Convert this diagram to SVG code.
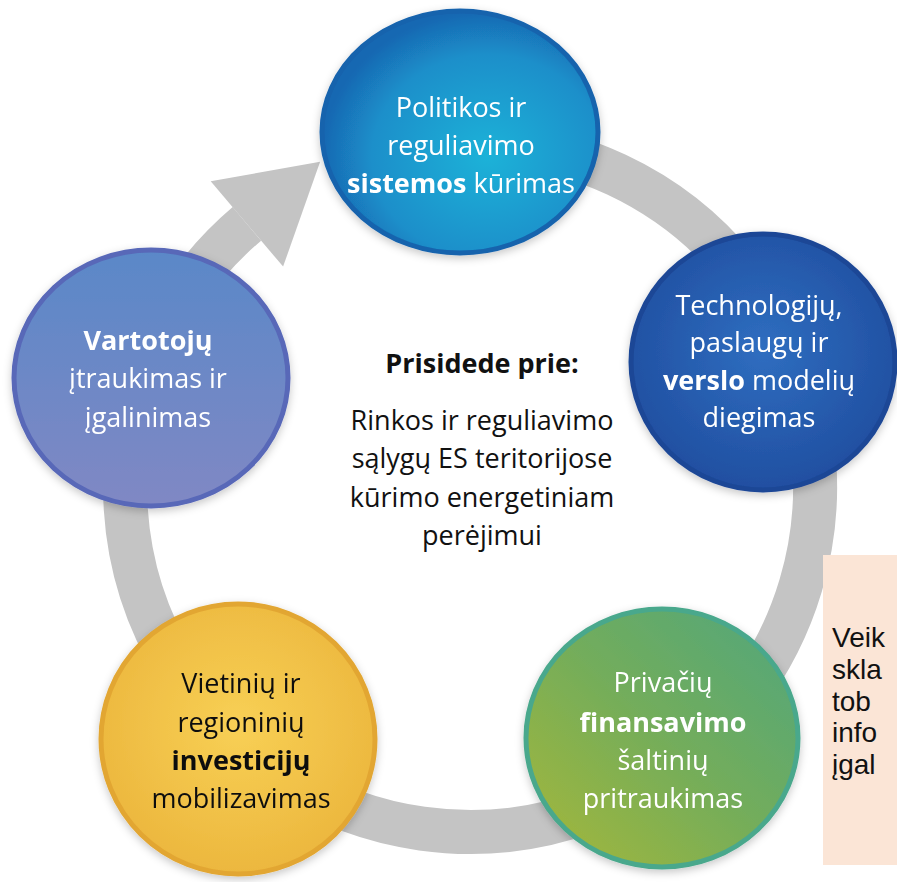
<svg xmlns="http://www.w3.org/2000/svg" width="897" height="882" viewBox="0 0 897 882">
<defs>
<style>
text{font-family:"Open Sans","Liberation Sans",sans-serif;font-size:27px;text-anchor:middle}
.w{fill:#ffffff}
.k{fill:#111111}
.b{font-weight:bold}
.side{font-family:"Liberation Sans",Arial,sans-serif;font-size:28px;text-anchor:start;fill:#111111}
.ring{fill:none;stroke:#c4c4c4;stroke-width:44}
.node{filter:url(#sh)}
</style>
<filter id="sh" x="-20%" y="-20%" width="140%" height="140%">
<feDropShadow dx="0" dy="3" stdDeviation="4" flood-color="#000" flood-opacity="0.22"/>
</filter>
<radialGradient id="gTop" cx="0.6" cy="0.6" r="0.6">
<stop offset="0" stop-color="#1fb2d8"/>
<stop offset="0.7" stop-color="#1b8fca"/>
<stop offset="1" stop-color="#1868b2"/>
</radialGradient>
<radialGradient id="gRight" cx="0.5" cy="0.45" r="0.6">
<stop offset="0" stop-color="#2f6ec0"/>
<stop offset="1" stop-color="#1f4c9e"/>
</radialGradient>
<linearGradient id="gLeft" x1="0" y1="0" x2="0" y2="1">
<stop offset="0" stop-color="#5a88c8"/>
<stop offset="1" stop-color="#8088c4"/>
</linearGradient>
<radialGradient id="gYel" cx="0.5" cy="0.45" r="0.6">
<stop offset="0" stop-color="#f8d055"/>
<stop offset="1" stop-color="#ebb53c"/>
</radialGradient>
<linearGradient id="gGrn" x1="1" y1="0" x2="0" y2="1">
<stop offset="0" stop-color="#4fa67e"/>
<stop offset="0.5" stop-color="#74ad5a"/>
<stop offset="1" stop-color="#a8b838"/>
</linearGradient>
</defs>
<rect width="897" height="882" fill="#ffffff"/>
<g id="connectors">
<path class="ring" d="M470 142 A345 345 0 1 1 246.9 223.9"/>
<polygon points="210.7,181.2 283.1,266.6 320.1,161.8" fill="#c4c4c4"/>
</g>
<g id="node-politikos" class="node">
<ellipse cx="460" cy="132" rx="138" ry="121" fill="url(#gTop)" stroke="#1763ad" stroke-width="5"/>
<text class="w" x="461" y="117">Politikos ir</text>
<text class="w" x="461" y="155">reguliavimo</text>
<text class="w" x="461" y="193"><tspan class="b">sistemos</tspan> kūrimas</text>
</g>
<g id="node-technologiju" class="node">
<ellipse cx="763" cy="362" rx="132" ry="128" fill="url(#gRight)" stroke="#1d4796" stroke-width="5"/>
<text class="w" x="759" y="315">Technologijų,</text>
<text class="w" x="759" y="352">paslaugų ir</text>
<text class="w" x="759" y="390"><tspan class="b">verslo</tspan> modelių</text>
<text class="w" x="759" y="427">diegimas</text>
</g>
<g id="node-vartotoju" class="node">
<ellipse cx="151" cy="378" rx="137" ry="128" fill="url(#gLeft)" stroke="#5868b8" stroke-width="5"/>
<text class="w b" x="148" y="350">Vartotojų</text>
<text class="w" x="148" y="388">įtraukimas ir</text>
<text class="w" x="148" y="427">įgalinimas</text>
</g>
<g id="node-vietiniu" class="node">
<ellipse cx="238" cy="739" rx="137" ry="135" fill="url(#gYel)" stroke="#e2a632" stroke-width="5"/>
<text class="k" x="241" y="693">Vietinių ir</text>
<text class="k" x="241" y="732">regioninių</text>
<text class="k b" x="241" y="770">investicijų</text>
<text class="k" x="241" y="808">mobilizavimas</text>
</g>
<g id="node-privaciu" class="node">
<ellipse cx="662" cy="738" rx="136" ry="129" fill="url(#gGrn)" stroke="#4aa88c" stroke-width="5"/>
<text class="w" x="663" y="692">Privačių</text>
<text class="w b" x="663" y="732">finansavimo</text>
<text class="w" x="663" y="770">šaltinių</text>
<text class="w" x="663" y="808">pritraukimas</text>
</g>
<g id="center">
<text class="k b" x="482" y="373">Prisidede prie:</text>
<text class="k" x="482" y="430">Rinkos ir reguliavimo</text>
<text class="k" x="482" y="468">sąlygų ES teritorijose</text>
<text class="k" x="482" y="507">kūrimo energetiniam</text>
<text class="k" x="482" y="545">perėjimui</text>
</g>
<g id="side-box">
<rect x="823" y="555" width="80" height="310" fill="#fbe5d6"/>
<text class="side" x="832" y="647">Veik</text>
<text class="side" x="832" y="679">skla</text>
<text class="side" x="832" y="711">tob</text>
<text class="side" x="832" y="742">info</text>
<text class="side" x="832" y="774">įgal</text>
</g>
</svg>
